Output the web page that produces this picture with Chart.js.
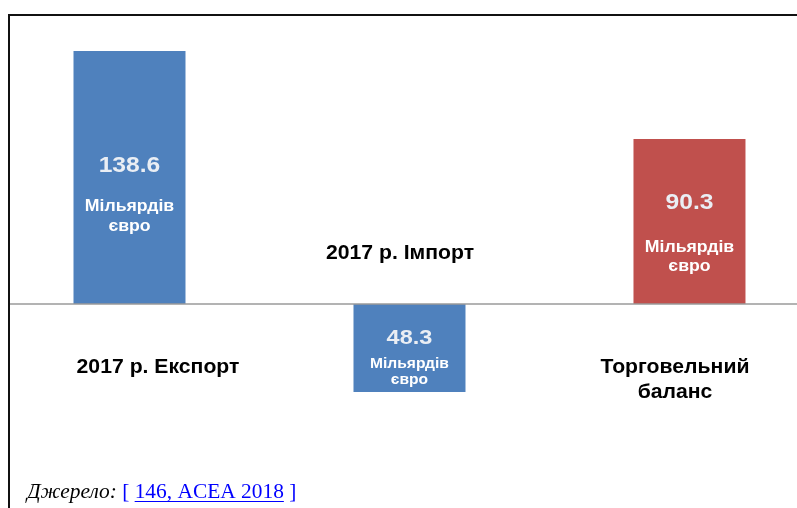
<!DOCTYPE html>
<html>
<head>
<meta charset="utf-8">
<script src="https://cdn.jsdelivr.net/npm/chart.js@4.4.0/dist/chart.umd.min.js"></script>
<style>
  html, body { margin: 0; padding: 0; background: #fff; }
  #wrap { position: relative; width: 797px; height: 508px; }
</style>
</head>
<body>
<div id="wrap"><canvas id="tradeChart" width="797" height="508"></canvas></div>
<script>
// data (billion euro)
var categories = ["2017 р. Експорт", "2017 р. Імпорт", "Торговельний баланс"]
var values = [138.6, -48.3, 90.3]
var valueLabels = ["138.6", "48.3", "90.3"]
var barColors = ["#4f81bd", "#4f81bd", "#c0504d"]
var unitLines = ["Мільярдів", "євро"]
var sourceLabel = "Джерело:"
var sourceRef = "146, ACEA 2018"

// text placement (pixels) - category captions sit apart from the bars
var captionPos = [
    { x: 158, y: [367], lines: ["2017 р. Експорт"] },
    { x: 400, y: [253], lines: ["2017 р. Імпорт"] },
    { x: 675, y: [367, 392], lines: ["Торговельний", "баланс"] },
]
// offsets of the texts inside each bar, from the bar's top edge
var inBar = [
    { num: 115, l1: 155, l2: 175, big: 22, small: 17 },
    { num: 34, l1: 60, l2: 76, big: 21, small: 15 },
    { num: 64, l1: 108, l2: 127, big: 22, small: 17 },
]

function stretchText(ctx, txt, x, y, sx) {
    ctx.save()
    ctx.translate(x, y)
    ctx.scale(sx, 1)
    ctx.fillText(txt, 0, 0)
    ctx.restore()
}

var decorPlugin = {
    id: "decor",
    beforeDatasetsDraw: function (chart) {
        var ctx = chart.ctx
        // frame
        ctx.save()
        ctx.strokeStyle = "#111"
        ctx.lineWidth = 2
        ctx.beginPath()
        ctx.moveTo(9, 508)
        ctx.lineTo(9, 15)
        ctx.lineTo(797, 15)
        ctx.stroke()
        ctx.restore()
    },
    afterDatasetsDraw: function (chart) {
        var ctx = chart.ctx
        var zeroY = chart.scales.y.getPixelForValue(0)
        ctx.save()
        ctx.strokeStyle = "#9a9a9a"
        ctx.lineWidth = 1.5
        ctx.beginPath()
        ctx.moveTo(10, zeroY)
        ctx.lineTo(797, zeroY)
        ctx.stroke()

        var bars = chart.getDatasetMeta(0).data
        ctx.textAlign = "center"
        ctx.textBaseline = "middle"
        bars.forEach(function (bar, i) {
            var top = Math.min(bar.y, bar.base)
            var o = inBar[i]
            ctx.fillStyle = "#eaeef4"
            ctx.font = "bold " + o.big + "px 'Liberation Sans', Arial, sans-serif"
            stretchText(ctx, valueLabels[i], bar.x, top + o.num, 1.12)
            ctx.fillStyle = "#ffffff"
            ctx.font = "bold " + o.small + "px 'Liberation Sans', Arial, sans-serif"
            stretchText(ctx, unitLines[0], bar.x, top + o.l1, 1.04)
            stretchText(ctx, unitLines[1], bar.x, top + o.l2, 1.04)
        })

        // captions
        ctx.fillStyle = "#000"
        ctx.font = "bold 20px 'Liberation Sans', Arial, sans-serif"
        captionPos.forEach(function (c) {
            c.lines.forEach(function (line, k) {
                stretchText(ctx, line, c.x, c.y[k], 1.06)
            })
        })

        // source line
        ctx.textAlign = "left"
        ctx.textBaseline = "alphabetic"
        ctx.font = "italic 20px 'Liberation Serif', 'Times New Roman', serif"
        ctx.fillStyle = "#000"
        var x = 27
        stretchText(ctx, sourceLabel + " ", x, 498, 1.07)
        x += ctx.measureText(sourceLabel + " ").width * 1.07
        ctx.font = "20px 'Liberation Serif', 'Times New Roman', serif"
        ctx.fillStyle = "#0000ff"
        stretchText(ctx, "[ ", x, 498, 1.07)
        x += ctx.measureText("[ ").width * 1.07
        var refW = ctx.measureText(sourceRef).width * 1.07
        stretchText(ctx, sourceRef, x, 498, 1.07)
        ctx.fillRect(x, 501, refW, 1)
        x += refW
        stretchText(ctx, " ]", x, 498, 1.07)
        ctx.restore()
    },
}

new Chart(document.getElementById("tradeChart").getContext("2d"), {
    type: "bar",
    data: {
        datasets: [{
            data: values.map(function (v, i) { return { x: i, y: v } }),
            backgroundColor: barColors,
            borderWidth: 0,
            barPercentage: 0.4,
            categoryPercentage: 1,
        }],
    },
    options: {
        responsive: false,
        animation: false,
        layout: { padding: 0 },
        plugins: { legend: { display: false }, tooltip: { enabled: false } },
        scales: {
            x: {
                type: "linear", display: false, offset: false,
                min: -0.4625, max: 2.384,
                ticks: { stepSize: 1, includeBounds: false },
            },
            y: { display: false, min: -111.8, max: 166.5 },
        },
    },
    plugins: [decorPlugin],
})
</script>
</body>
</html>
